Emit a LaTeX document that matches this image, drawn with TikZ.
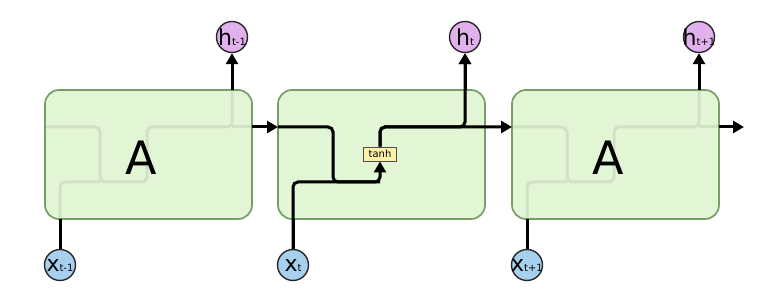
\documentclass[tikz,border=0pt]{standalone}
\usepackage{fontspec}
\setmainfont{DejaVu Sans}
\usetikzlibrary{arrows.meta}
\definecolor{cellgreen}{HTML}{E0F4D2}
\definecolor{celledge}{HTML}{779E66}
\definecolor{hpurple}{HTML}{E1B1EE}
\definecolor{xblue}{HTML}{A7D0EF}
\definecolor{gateyellow}{HTML}{FCF1A7}
\tikzset{
  wire/.style={line width=3pt, rounded corners=5pt},
  tip/.style={-{Triangle[length=11pt,width=12pt]}},
  cell/.style={draw=celledge, line width=1.7pt, fill=cellgreen, fill opacity=.93,
    rounded corners=14pt, minimum width=207pt, minimum height=129pt, inner sep=0pt},
  vec/.style={circle, draw=black!85, line width=1.4pt, minimum size=31pt, inner sep=0pt},
  gate/.style={draw=black!70, fill=gateyellow, line width=.9pt, minimum width=33pt,
    minimum height=14pt, inner sep=0pt, font=\fontsize{10}{10}\selectfont},
  biglabel/.style={font=\fontsize{46}{46}\selectfont}
}
\newcommand{\veclabel}[2]{{\fontsize{22}{22}\selectfont #1}{\fontsize{10}{10}\selectfont #2}}

\begin{document}
\begin{tikzpicture}[x=1pt,y=-1pt]
\useasboundingbox (0,0) rectangle (768,291);
\foreach \i/\dx/\sub in {1/0/t-1,2/233/t,3/467/t+1}{
  \begin{scope}[xshift=\dx pt]
    \coordinate (in\i) at (45,127);
    \coordinate (split\i) at (100,182);
    \coordinate (mix\i) at (147,182);
    \coordinate (gate\i) at (147,154);
    \coordinate (up\i) at (232,127);
    \coordinate (out\i) at (252,127);
    \coordinate (top\i) at (232,90);
    \coordinate (bot\i) at (60,219);
    \coordinate (mid\i) at (148.5,154.5);
    \node[vec, fill=xblue, label=center:{\veclabel{x}{\sub}}] (x\i) at (60,265) {};
    \node[vec, fill=hpurple, label=center:{\veclabel{h}{\sub}}] (h\i) at (232,37) {};
  \end{scope}
}
\coordinate (end) at (744,127);
% wiring seen through the cells
\foreach \i in {1,2,3}{
  \draw[wire] (in\i) -| (split\i) -- (mix\i) |- (up\i) -- (top\i);
  \draw[wire] (bot\i) |- (split\i);
  \draw[wire] (up\i) -- (out\i);
}
\foreach \i in {1,2,3}
  \node[cell] (A\i) at (mid\i) {};
\node[biglabel, xshift=-7pt, yshift=-3pt] (lab1) at (A1) {A};
\node[biglabel, xshift=-7pt, yshift=-3pt] (lab3) at (A3) {A};
% in and out of the cells
\foreach \i in {1,2,3}{
  \draw[wire] (x\i.north) -- (bot\i);
  \draw[wire, tip] (top\i) -- (h\i.south);
}
\draw[wire, tip] (out1) -- (in2);
\draw[wire, tip] (out3) -- (end);
% the middle cell
\node[gate] (tanh) at (gate2) {tanh};
\draw[wire] (in2) -| (split2) -- (mix2);
\draw[wire, tip] (x2.north) |- (mix2) -- (tanh.south);
\draw[wire, tip] (tanh.north) |- (up2) -- (h2.south);
\draw[wire, tip] (tanh.north) |- (in3);
\end{tikzpicture}
\end{document}
